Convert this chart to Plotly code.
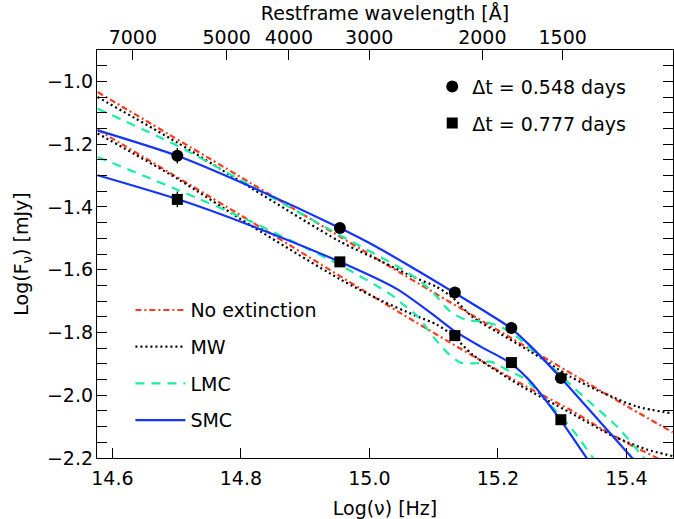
import numpy as np
import plotly.graph_objects as go

# ---------------- data ----------------
C_ANG = 2.998e18  # speed of light in Angstrom/s

# observed photometry (log nu [Hz], log F_nu [mJy])
x_obs = [14.701, 14.954, 15.133, 15.221, 15.298]
y_t1 = [-1.237, -1.467, -1.673, -1.786, -1.945]   # dt = 0.548 d
y_t2 = [-1.376, -1.575, -1.810, -1.896, -2.078]   # dt = 0.777 d
err_t1 = [0.025, 0.015, 0.015, 0.015, 0.015]
err_t2 = [0.025, 0.015, 0.015, 0.015, 0.015]

# model curves, epoch 1 (dt = 0.548 d)
x_noext_1 = [14.577, 14.816, 15.049, 15.234, 15.405, 15.472]
y_noext_1 = [-1.034, -1.325, -1.611, -1.834, -2.040, -2.118]
x_mw_1 = [14.577, 14.701, 14.816, 14.954, 15.02, 15.07, 15.105, 15.13, 15.16, 15.20, 15.25, 15.312, 15.364, 15.416, 15.472]
y_mw_1 = [-1.050, -1.195, -1.340, -1.510, -1.575, -1.625, -1.655, -1.690, -1.750, -1.800, -1.860, -1.940, -1.993, -2.036, -2.058]
x_lmc_1 = [14.577, 14.701, 14.80, 14.954, 15.049, 15.08, 15.10, 15.126, 15.151, 15.177, 15.203, 15.229, 15.277, 15.333, 15.385, 15.421, 15.44]
y_lmc_1 = [-1.087, -1.205, -1.315, -1.490, -1.596, -1.638, -1.675, -1.734, -1.760, -1.765, -1.781, -1.813, -1.898, -2.004, -2.099, -2.184, -2.23]
x_smc_1 = [14.577, 14.701, 14.816, 14.954, 15.00, 15.06, 15.132, 15.175, 15.220, 15.250, 15.298, 15.359, 15.409, 15.43]
y_smc_1 = [-1.156, -1.237, -1.336, -1.467, -1.515, -1.585, -1.673, -1.727, -1.786, -1.842, -1.945, -2.085, -2.200, -2.25]

# model curves, epoch 2 (dt = 0.777 d)
x_noext_2 = [14.577, 14.816, 15.049, 15.234, 15.312, 15.364, 15.411, 15.442, 15.472]
y_noext_2 = [-1.154, -1.447, -1.739, -1.961, -2.046, -2.110, -2.163, -2.194, -2.226]
x_mw_2 = [14.577, 14.701, 14.816, 14.954, 15.02, 15.07, 15.105, 15.13, 15.16, 15.20, 15.234, 15.312, 15.38, 15.432, 15.472]
y_mw_2 = [-1.166, -1.310, -1.460, -1.630, -1.700, -1.745, -1.775, -1.810, -1.870, -1.925, -1.968, -2.055, -2.131, -2.173, -2.194]
x_lmc_2 = [14.577, 14.701, 14.816, 14.954, 15.034, 15.049, 15.075, 15.101, 15.122, 15.142, 15.168, 15.188, 15.219, 15.240, 15.279, 15.320, 15.346, 15.36]
y_lmc_2 = [-1.241, -1.345, -1.447, -1.585, -1.680, -1.705, -1.749, -1.818, -1.866, -1.896, -1.898, -1.893, -1.924, -1.945, -2.025, -2.120, -2.194, -2.23]
x_smc_2 = [14.577, 14.701, 14.816, 14.954, 15.043, 15.095, 15.132, 15.173, 15.219, 15.250, 15.297, 15.336, 15.35]
y_smc_2 = [-1.299, -1.375, -1.460, -1.575, -1.662, -1.737, -1.795, -1.845, -1.897, -1.955, -2.078, -2.194, -2.235]

model_names = ["No extinction", "MW", "LMC", "SMC"]
epoch_labels = ["\u0394t = 0.548 days", "\u0394t = 0.777 days"]

x_ticks = [14.6, 14.8, 15.0, 15.2, 15.4]
y_ticks = [-2.2, -2.0, -1.8, -1.6, -1.4, -1.2, -1.0]
wl_ticks = [7000, 5000, 4000, 3000, 2000, 1500]

X_RANGE = [14.576, 15.4725]
Y_RANGE = [-2.2, -0.9]

# ---------------- styles ----------------
RED = "#ff3a1e"
CYAN = "#17f0a3"
BLUE = "#1433ff"
FONT = "DejaVu Sans"
FS = 19

styles = {
    "No extinction": dict(color=RED, width=2.2, dash="6px,3px,2px,3px"),
    "MW": dict(color="black", width=2.2, dash="2px,3px"),
    "LMC": dict(color=CYAN, width=2.2, dash="9px,7px"),
    "SMC": dict(color=BLUE, width=2.2, dash="solid"),
}

curves = {
    "No extinction": [(x_noext_1, y_noext_1), (x_noext_2, y_noext_2)],
    "MW": [(x_mw_1, y_mw_1), (x_mw_2, y_mw_2)],
    "LMC": [(x_lmc_1, y_lmc_1), (x_lmc_2, y_lmc_2)],
    "SMC": [(x_smc_1, y_smc_1), (x_smc_2, y_smc_2)],
}

fig = go.Figure()

for name in model_names:
    for i, (xs, ys) in enumerate(curves[name]):
        fig.add_trace(go.Scatter(
            x=xs, y=ys, mode="lines", name=name,
            line=dict(shape="spline", smoothing=0.7, **styles[name]),
            legend="legend", legendgroup=name, showlegend=(i == 0),
            hoverinfo="skip",
        ))

for lab, ys, errs, sym, size in [
    (epoch_labels[0], y_t1, err_t1, "circle", 12),
    (epoch_labels[1], y_t2, err_t2, "square", 11),
]:
    fig.add_trace(go.Scatter(
        x=x_obs, y=ys, mode="markers", name=lab,
        marker=dict(symbol=sym, size=size, color="black"),
        error_y=dict(type="data", array=errs, width=0, thickness=1.3, color="black"),
        legend="legend2", legendgroup=lab,
    ))

# invisible trace to carry the top wavelength axis
top_pos = [float(np.log10(C_ANG / w)) for w in wl_ticks]
fig.add_trace(go.Scatter(x=top_pos, y=[None] * len(top_pos), xaxis="x2",
                         mode="lines", showlegend=False, hoverinfo="skip"))

axis_common = dict(showline=True, linecolor="black", linewidth=1.3,
                   ticks="inside", ticklen=10, tickwidth=1.3, tickcolor="black",
                   showgrid=False, zeroline=False,
                   tickfont=dict(family=FONT, size=FS, color="black"))

fig.update_layout(
    width=674, height=519,
    paper_bgcolor="white", plot_bgcolor="white",
    margin=dict(l=97, r=1, t=50, b=61, autoexpand=False),
    font=dict(family=FONT, size=FS, color="black"),
    xaxis=dict(range=X_RANGE, tickvals=x_ticks, ticktext=[f"{v:.1f}" for v in x_ticks],
               mirror=True, ticklabelstandoff=3,
               title=dict(text="Log(\u03bd) [Hz]", font=dict(family=FONT, size=FS), standoff=13),
               **axis_common),
    xaxis2=dict(range=X_RANGE, overlaying="x", side="top", anchor="y",
                tickvals=top_pos, ticktext=[str(w) for w in wl_ticks],
                ticklabelstandoff=-3,
                title=dict(text="Restframe wavelength [\u00c5]", font=dict(family=FONT, size=FS), standoff=0),
                **axis_common),
    yaxis=dict(range=Y_RANGE, tickvals=y_ticks, tickformat=".1f",
               mirror="allticks", ticklabelstandoff=-1,
               minor=dict(dtick=0.05, tick0=-2.2, ticks="inside", ticklen=5, tickwidth=1.3, tickcolor="black"),
               title=dict(text="Log(F<sub>\u03bd</sub>) [mJy]", font=dict(family=FONT, size=FS), standoff=13),
               **axis_common),
    legend=dict(x=0.058, y=0.409, xanchor="left", yanchor="top", itemwidth=50,
                bgcolor="rgba(0,0,0,0)", borderwidth=0, traceorder="grouped",
                tracegroupgap=9, font=dict(family=FONT, size=FS, color="black")),
    legend2=dict(x=0.582, y=0.957, xanchor="left", yanchor="top",
                 bgcolor="rgba(0,0,0,0)", borderwidth=0, traceorder="grouped",
                 tracegroupgap=9, font=dict(family=FONT, size=FS, color="black")),
    showlegend=True,
)

fig.write_html("out.html", config={"displayModeBar": False},
               post_script="document.body.style.margin='0px';")
